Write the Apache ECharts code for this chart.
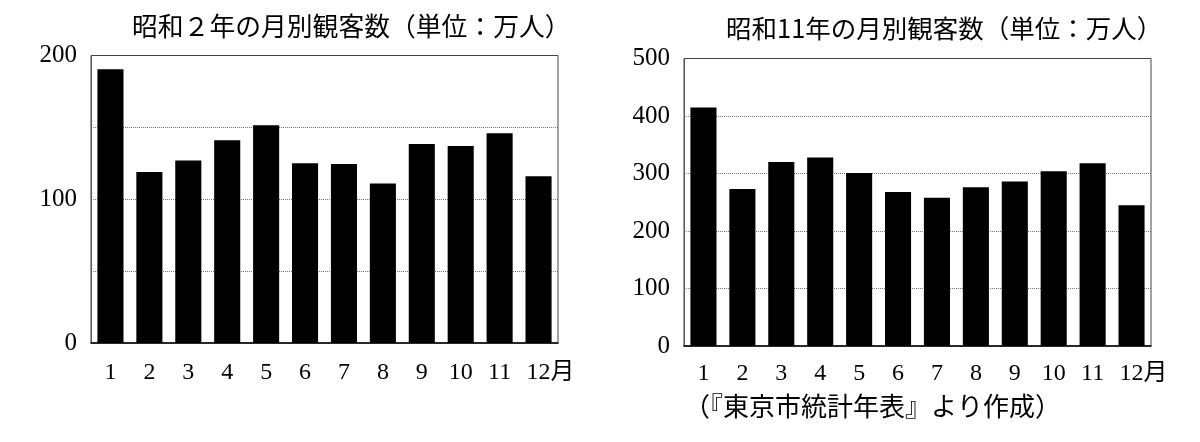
<!DOCTYPE html>
<html>
<head>
<meta charset="utf-8">
<script src="https://cdn.jsdelivr.net/npm/echarts@6/dist/echarts.min.js"></script>
<style>html,body{margin:0;padding:0;background:#fff;}#c{width:1200px;height:442px;}</style>
</head>
<body>
<div id="c"></div>
<script>
const months = ['1','2','3','4','5','6','7','8','9','10','11','12月'];
const showa2 = [190.5, 119, 127, 141, 151.5, 125, 124.5, 111, 138.5, 137, 146, 116];
const showa11 = [415, 273, 320, 328, 301, 268, 258, 276, 286, 304, 318, 245];
const title2 = '昭和２年の月別観客数（単位：万人）';
const title11 = '昭和11年の月別観客数（単位：万人）';
const sourceNote = '（『東京市統計年表』より作成）';
const yTicks2 = {min: 0, max: 200, interval: 50, labelEvery: 100};
const yTicks11 = {min: 0, max: 500, interval: 100, labelEvery: 100};

const numFont = '"Liberation Serif", "Noto Sans CJK JP", serif';
const cjkFont = '"Noto Sans CJK JP", sans-serif';

function xAxis(gi) {
  return {
    type: 'category', gridIndex: gi, data: months,
    axisLine: {show: true, lineStyle: {color: '#000', width: 1.5}},
    axisTick: {show: false},
    axisLabel: {
      interval: 0,
      margin: gi === 0 ? 18 : 16,
      color: '#000', fontFamily: numFont, fontSize: 24,
      formatter: function (v) { return v.indexOf('月') >= 0 ? '{m|' + v + '}' : v; },
      rich: {m: {fontFamily: numFont, fontSize: 24, color: '#000', padding: [0, 0, 0, 24]}}
    }
  };
}
function yAxis(gi, t) {
  return {
    type: 'value', gridIndex: gi, min: t.min, max: t.max, interval: t.interval,
    axisLine: {show: true, lineStyle: {color: '#555', width: 1}},
    axisTick: {show: false},
    splitLine: {show: true, showMaxLine: false, showMinLine: false, lineStyle: {color: '#777', type: [1, 1], width: 1}},
    axisLabel: {
      margin: 14, color: '#000', fontFamily: numFont, fontSize: 25,
      formatter: function (v) { return v % t.labelEvery === 0 ? String(v) : ''; }
    }
  };
}
function series(gi, data) {
  return {
    type: 'bar', xAxisIndex: gi, yAxisIndex: gi, data: data,
    barCategoryGap: '33%', itemStyle: {color: '#000'}, silent: true, animation: false
  };
}

const chart = echarts.init(document.getElementById('c'));
chart.setOption({
  animation: false,
  backgroundColor: '#fff',
  title: [
    {text: title2, left: 132, top: 13, padding: 0, textStyle: {fontFamily: cjkFont, fontSize: 25.8, fontWeight: 'normal', color: '#000'}},
    {text: title11, left: 726, top: 16, padding: 0, textStyle: {fontFamily: cjkFont, fontSize: 25.5, fontWeight: 'normal', color: '#000'}},
    {text: sourceNote, left: 684, top: 393, padding: 0, textStyle: {fontFamily: cjkFont, fontSize: 26, fontWeight: 'normal', color: '#000'}}
  ],
  grid: [
    {left: 91, top: 55.5, width: 467, height: 287.5, show: true, borderColor: '#444', borderWidth: 1, backgroundColor: 'transparent'},
    {left: 684, top: 58.5, width: 467, height: 287.5, show: true, borderColor: '#444', borderWidth: 1, backgroundColor: 'transparent'}
  ],
  xAxis: [xAxis(0), xAxis(1)],
  yAxis: [yAxis(0, yTicks2), yAxis(1, yTicks11)],
  series: [series(0, showa2), series(1, showa11)]
});
</script>
</body>
</html>
